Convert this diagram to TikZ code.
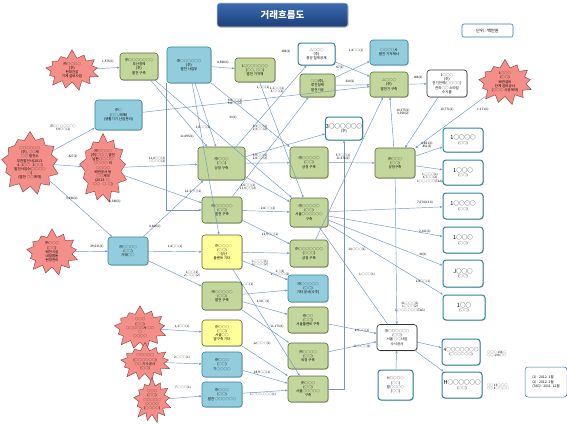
\documentclass[tikz,border=0pt]{standalone}
\usepackage{fontspec}
\setmainfont{Noto Sans CJK KR}
\usetikzlibrary{shapes.symbols,shadows,arrows.meta}
\definecolor{gfill}{HTML}{C3D69B}
\definecolor{gdraw}{HTML}{5A6B3A}
\definecolor{bfill}{HTML}{93CDDD}
\definecolor{bdraw}{HTML}{31859C}
\definecolor{yfill}{HTML}{FFFF99}
\definecolor{sfill}{HTML}{F48E88}
\definecolor{sdraw}{HTML}{8B3A3A}
\definecolor{edgec}{HTML}{7196C6}
\definecolor{titA}{HTML}{3B6BB0}
\definecolor{titB}{HTML}{1C3F7A}
\newcommand\boxfnt{\fontsize{3.5}{4.2}\selectfont}
\newcommand\labfnt{\fontsize{3.1}{3.7}\selectfont}
\newcommand\bigfnt{\fontsize{5.5}{6.5}\selectfont}
\tikzset{
  box/.style={rounded corners=3pt, align=center, inner sep=0.5pt, font=\boxfnt, line width=0.6pt,
    drop shadow={shadow xshift=0.8pt, shadow yshift=-0.8pt, opacity=0.35}},
  gbox/.style={box, fill=gfill, draw=gdraw},
  bbox/.style={box, fill=bfill, draw=bdraw},
  ybox/.style={box, fill=yfill, draw=gdraw},
  tbox/.style={box, fill=white, draw=bdraw, line width=1pt},
  kbox/.style={box, fill=white, draw=black!80},
  burst/.style={starburst, starburst points=13, starburst point height=9pt, random starburst=7,
    fill=sfill, draw=sdraw, line width=0.4pt, align=center, inner sep=0pt, font=\boxfnt},
  conn/.style={draw=edgec, line width=0.45pt, -{Stealth[length=2.8pt,width=2.2pt]}},
  lab/.style={font=\labfnt, inner sep=0pt, align=center}
}
\begin{document}
\begin{tikzpicture}[x=1pt,y=-1pt]
\useasboundingbox (0,0) rectangle (567,423);
\fill[white] (0,0) rectangle (567,423);
% title
\node[rounded corners=3pt, top color=titA, bottom color=titB, draw=gray!40, line width=0.6pt,
  minimum width=131pt, minimum height=24pt, text=white, font=\fontsize{9.5}{11}\selectfont\bfseries,
  drop shadow={shadow xshift=0.8pt, shadow yshift=-0.8pt, opacity=0.35}] (title) at (282.5,15) {거래흐름도};
\node[rounded corners=2pt, draw=bdraw, line width=0.6pt, minimum width=51pt, minimum height=13pt,
  font=\fontsize{4.2}{5}\selectfont] (unit) at (487.5,30.5) {단위 : 백만원};
% starbursts
\node[burst, minimum width=60pt, minimum height=42pt] (S1) at (72,70) {㈜○○○○\\(주)\\현대건설\\기계 설비사업};
\node[burst, minimum width=60pt, minimum height=42pt] (S2) at (505,82) {1○○○\\(○○)\\배관설비\\단계 설비공사\\(○○○ 시공계약)};
\node[burst, minimum width=64pt, minimum height=52pt] (S3) at (30,163) {○○○○○○\\(주), ○○제\\○○ 발전소\\부천발전사(2013.\\4. 1○○ ~ 2○○)\\발전사업수(○○○○\\○)\\(발전 ○○계약)};
\node[burst, minimum width=54pt, minimum height=60pt] (S4) at (103,168) {㈜○○○○\\(주)○○○, 발전\\남한○○ ○○\\○○○○ 외\\○○○○\\배관공사 등\\○○계약\\(2013. ○.\\○○ ~ ○. ○)};
\node[burst, minimum width=58pt, minimum height=48pt] (S5) at (52,252) {㈜○○○\\(○○)\\배전시설\\내일합동\\현장관리};
\node[burst, minimum width=48pt, minimum height=36pt] (S6) at (140,328) {○○○\\(○○)\\○○○○○사 ○○\\○\\○○○○};
\node[burst, minimum width=56pt, minimum height=28pt] (S7) at (145,362) {○○○○○\\(○○○○○○)\\○○ 기수공사\\(○○)};
\node[burst, minimum width=44pt, minimum height=37pt] (S8) at (152,400) {○○○\\(○○)\\○○○○○\\○○○○\\(○○○○)};
% top row
\node[gbox, minimum width=38pt, minimum height=27pt] (G1) at (139,66.5) {㈜○○○○○○○\\부산정제\\(주)\\발전 구축};
\node[bbox, minimum width=47pt, minimum height=30pt] (B1) at (118.5,115) {㈜○\\(○○, 매매)\\(생활기기 산업관리)};
\node[bbox, minimum width=44pt, minimum height=36pt] (B2) at (189,65) {㈜○○○○○○\\(주)\\발전 사업부};
\node[gbox, minimum width=40pt, minimum height=24pt] (G2) at (255,70) {1○○○○○○○\\(○○, ○○)\\발전 기자재};
\node[tbox, minimum width=37pt, minimum height=22pt] (W1) at (316.5,54) {△○○○\\(주)\\중앙 철제공재};
\node[gbox, minimum width=35pt, minimum height=23pt] (G3) at (317.5,85.5) {○○(주),\\루진정제\\발전기공};
\node[bbox, minimum width=38pt, minimum height=25pt] (B3) at (389,52.5) {○○○○사\\발전 기자재사};
\node[gbox, minimum width=38pt, minimum height=25pt] (G4) at (389,84.5) {△○○○\\(주)\\발전기 구축};
\node[kbox, minimum width=40pt, minimum height=27pt] (W2) at (447,83.5) {1○○○\\(주)\\전기전력(○○○○)\\관리○○ 스타일\\수시물};
\node[tbox, minimum width=36pt, minimum height=23pt] (W3) at (344,128.5) {{\bigfnt 3○○○○○○}\\(주)};
% middle
\node[gbox, minimum width=47pt, minimum height=33pt] (G5) at (221.5,163.5) {㈜○○○\\(○○)\\상정 구축};
\node[gbox, minimum width=38pt, minimum height=31pt] (G6) at (309,162.5) {㈜○○○○○\\(○○)\\상정 구축};
\node[gbox, minimum width=40pt, minimum height=30pt] (G7) at (395,163) {㈜○○○\\(○○)\\상정구축};
\node[gbox, minimum width=40pt, minimum height=26pt] (G8) at (222,210) {㈜○○○○○\\(○○)\\발전 구축};
\node[gbox, minimum width=38pt, minimum height=29pt] (G9) at (309,212.5) {㈜○○○○○\\(○○)\\서울○○○○○○\\구축};
\node[bbox, minimum width=40pt, minimum height=28pt] (B4) at (128,251) {㈜○○○○\\(○○)\\거래○○};
\node[ybox, minimum width=40pt, minimum height=34pt] (Y1) at (222,252) {㈜○○○\\(○○)\\○정산\\플랜트 기타};
\node[gbox, minimum width=38pt, minimum height=27pt] (G10) at (309,253.5) {㈜○○○○○○○\\(○○○)\\상정 구축};
% right column
\node[tbox, minimum width=40pt, minimum height=24pt] (W4) at (463,140) {{\bigfnt 1○○○○}\\(○○)};
\node[tbox, minimum width=40pt, minimum height=25pt] (W5) at (463,172.5) {{\bigfnt 1○○○}\\(○○)};
\node[tbox, minimum width=40pt, minimum height=26pt] (W6) at (463,206) {{\bigfnt 1○○○○}\\(○○)};
\node[tbox, minimum width=40pt, minimum height=26pt] (W7) at (463,240) {{\bigfnt 1○○○}\\(○○)};
\node[tbox, minimum width=40pt, minimum height=27pt] (W8) at (463,273.5) {{\bigfnt J○○○}\\(○○)};
\node[tbox, minimum width=42pt, minimum height=25pt] (W9) at (464,307.5) {{\bigfnt 1○○}\\(○○)};
% lower
\node[bbox, minimum width=40pt, minimum height=27pt] (B5) at (308,288.5) {㈜○○○○○\\(○○)\\기타 공사(수주)};
\node[gbox, minimum width=40pt, minimum height=28pt] (G14) at (222,296) {㈜○○○○○\\(○○)\\발전 구축};
\node[gbox, minimum width=40pt, minimum height=26pt] (G11) at (308,320) {㈜○○\\(○○)\\서울플랜트 구축};
\node[ybox, minimum width=40pt, minimum height=26pt] (Y2) at (222,333) {㈜○○○\\(○○)\\서울○○\\발구축 기타};
\node[gbox, minimum width=40pt, minimum height=26pt] (G12) at (308,356) {㈜○○○○\\(○○)\\외정 구축};
\node[bbox, minimum width=40pt, minimum height=25pt] (B6) at (222,364.5) {㈜○○○\\(○○)\\기○○○○};
\node[gbox, minimum width=40pt, minimum height=26pt] (G13) at (308,389) {㈜○○○\\(○○)\\서울○○○○○\\구축};
\node[bbox, minimum width=40pt, minimum height=25pt] (B7) at (222,394.5) {㈜○○○\\(○○)\\발전 ○○○○○○};
\node[kbox, minimum width=40pt, minimum height=26pt] (W10) at (397,337.5) {㈜○○○○○○\\(○○)\\서울 ○○사업\\수시공사};
\node[tbox, minimum width=38pt, minimum height=26pt] (W11) at (461,352) {{\fontsize{4.6}{5.5}\selectfont 4○○○○○○○}\\(○○○○○○)};
\node[tbox, minimum width=40pt, minimum height=26pt] (W12) at (462,385) {{\bigfnt H○○○○○○}\\(○○)};
\node[tbox, minimum width=35pt, minimum height=30pt] (W13) at (395.5,385) {H○○○○\\(○○)\\발○○○○\\(○○)};
\node[rounded corners=3pt, draw=bdraw, line width=0.5pt, minimum width=42pt, minimum height=30pt,
  align=left, font=\fontsize{3.4}{4.2}\selectfont, inner sep=1pt] (leg) at (546,382) {(1) : 2012. 1월\\(2) : 2012. 2월\\(TAG) : 2011. 12월};
\node[lab, align=left] (r11) at (497,354) {○○○ 134,○\\○○ 130,○○};
\node[lab, align=left] (r12) at (498,387) {○○ 13○,○○\\○○ 1○○,○○};
% connectors
\draw[conn] (S1) -- (G1);
\draw[conn] (B2) -- (G2);
\draw[conn] (W1) -- (G4);
\draw[conn] (G3) -- (B3);
\draw[conn] (G3) -- (G4);
\draw[conn] (G4) -- (W2);
\draw[conn] (W2) -- (G7);
\draw[conn] (S2) -- (G7);
\draw[conn] (G7) -- (G4);
\draw[conn] (G10) -- (G4);
\draw[conn] (G7) -- (W4);
\draw[conn] (G7) -- (W5);
\draw[conn] (G6) -- (G7);
\draw[conn] (G5) -- (G6);
\draw[conn] (S4) -- (G5);
\draw[conn] (S3) -- (S4);
\draw[conn] (S3) -- (B4);
\draw[conn] (S3) -- (B1);
\draw[conn] (S5) -- (B4);
\draw[conn] (B4) -- (Y1);
\draw[conn] (B4) -- (G5);
\draw[conn] (S4) -- (G8);
\draw[conn] (G8) -- (G9);
\draw[conn] (G5) -- (G9);
\draw[conn] (B2.south west) |- (G8.west);
\draw[conn] (B2) -- (G5);
\draw[conn] (G1) -- (G5);
\draw[conn] (Y1) -- (G10);
\draw[conn] (G9) -- (W6);
\draw[conn] (G9) -- (W7);
\draw[conn] (G9) -- (W8);
\draw[conn] (G9) -- (W9);
\draw[conn] (W10) -- (G9);
\draw[conn] (G7) -- (W10);
\draw[conn] (W13) -- (W10);
\draw[conn] (W10) -- (W11);
\draw[conn] (W10) -- (W12);
\draw[conn] (G11) -- (W10);
\draw[conn] (G12) -- (W10);
\draw[conn] (G13.east) -| (W3.south);
\draw[conn] (Y2) -- (G13);
\draw[conn] (B6) -- (G13);
\draw[conn] (B7) -- (G13);
\draw[conn] (S6) -- (Y2);
\draw[conn] (S7) -- (B6);
\draw[conn] (S8) -- (B7);
\draw[conn] (G14) -- (B5);
\draw[conn] (G14) -- (G11);
\draw[conn] (G14) -- (G12);
\draw[conn] (G8) -- (G10);
\draw[conn] (B1) -- (G4);
\draw[conn] (G5) -- (W1);
\draw[conn] (G8) -- (G3);
\draw[conn] (G2) -- (G9);
\draw[conn] (B2) -- (G6);
\draw[conn] (G5) -- (W3);
\draw[conn] (Y1) -- (B5);
\draw[conn] (B4) -- (G14);
\draw[conn] (G1) -- (G9);
\draw[conn] (B2) -- (Y1);
\draw[conn] (Y1) -- (G13);
% labels
\node[lab] (l1) at (108,62) {1,575(1)};
\node[lab] (l2) at (223,63) {4,558(1)};
\node[lab] (l3) at (356,51) {1,4○○(1)};
\node[lab] (l4) at (340,68) {67(1)};
\node[lab] (l5) at (350,82) {230(1)};
\node[lab] (l6) at (418,78) {188(1)};
\node[lab] (l7) at (447,110) {10,771(1)};
\node[lab] (l8) at (483,110) {1,171(1)};
\node[lab] (l9) at (403,112) {10,375(1)\\3,358(2)};
\node[lab] (l10) at (427,145) {4,851(1)\\851(2)};
\node[lab] (l11) at (430,178) {1,○○○(1)\\4,7○○(2)\\1○○,○○○(TAG)};
\node[lab] (l12) at (343,157) {5,7○○(1)\\11,376(2)};
\node[lab] (l13) at (260,157) {5,9○○(1)\\2,8○○(2)};
\node[lab] (l14) at (157,160) {11,6○○(1)\\○○○○(2)};
\node[lab] (l15) at (73,157) {827(1)};
\node[lab] (l16) at (72,199) {3,436(1)};
\node[lab] (l17) at (63,128) {㈜○○ ○○○○○\\3,9○○(1)};
\node[lab] (l18) at (97,247) {29,531(1)};
\node[lab] (l19) at (175,247) {1,4○○(1)};
\node[lab] (l20) at (155,227) {4,600(1)};
\node[lab] (l21) at (115,202) {3,548(1)};
\node[lab] (l22) at (268,209) {2,8○○(1)};
\node[lab] (l23) at (248,187) {4,6○○(1)\\11,0○○(2)};
\node[lab] (l24) at (193,192) {12,3○○(1)};
\node[lab] (l25) at (260,263) {1,○○○(1)\\1,○○○(2)};
\node[lab] (l26) at (425,203) {7,674(13.6)};
\node[lab] (l27) at (425,232) {2,101(1)};
\node[lab] (l28) at (423,255) {38(1)};
\node[lab] (l29) at (423,282) {2,8○○(1)};
\node[lab] (l30) at (410,307) {31,○○○(1)\\1,○○○(2)\\1,○○○,○○○(TAG)};
\node[lab] (l31) at (362,331) {2,9○○(1)};
\node[lab] (l32) at (362,347) {11,○○○(1)};
\node[lab] (l33) at (262,344) {12,○○○(1)};
\node[lab] (l34) at (262,373) {28,9○○(1)};
\node[lab] (l35) at (263,395) {1,○○○,○○○(1)};
\node[lab] (l36) at (182,327) {1,1○○(1)};
\node[lab] (l37) at (182,358) {2,○○○(1)};
\node[lab] (l38) at (183,388) {7,○○○(1)};
\node[lab] (l39) at (247,285) {1,○○(1)};
\node[lab] (l40) at (263,302) {3,30○(1)};
\node[lab] (l41) at (277,327) {11,173(1)};
\node[lab] (l42) at (270,235) {13,9○○(1)};
\node[lab] (l43) at (235,102) {9,6○○(1)\\9,8○○(2)};
\node[lab] (l44) at (286,52) {288(1)};
\node[lab] (l45) at (277,90) {1,1○○(1)\\3,○○(2)};
\node[lab] (l46) at (263,88) {1,○○(1)};
\node[lab] (l47) at (233,118) {33(1)};
\node[lab] (l48) at (260,128) {3,3○○(1)\\2,3○○(2)};
\node[lab] (l49) at (280,273) {1○(1)\\1○,○○○(2)};
\node[lab] (l50) at (192,274) {1,○○(1)\\2,○○○(2)};
\node[lab] (l51) at (357,250) {10,○○○(1)};
\node[lab] (l52) at (367,275) {1,○○○(1)};
\node[lab] (l53) at (203,128) {1,8○○(1)};
\node[lab] (l54) at (187,137) {11,695(1)};
\end{tikzpicture}
\end{document}
